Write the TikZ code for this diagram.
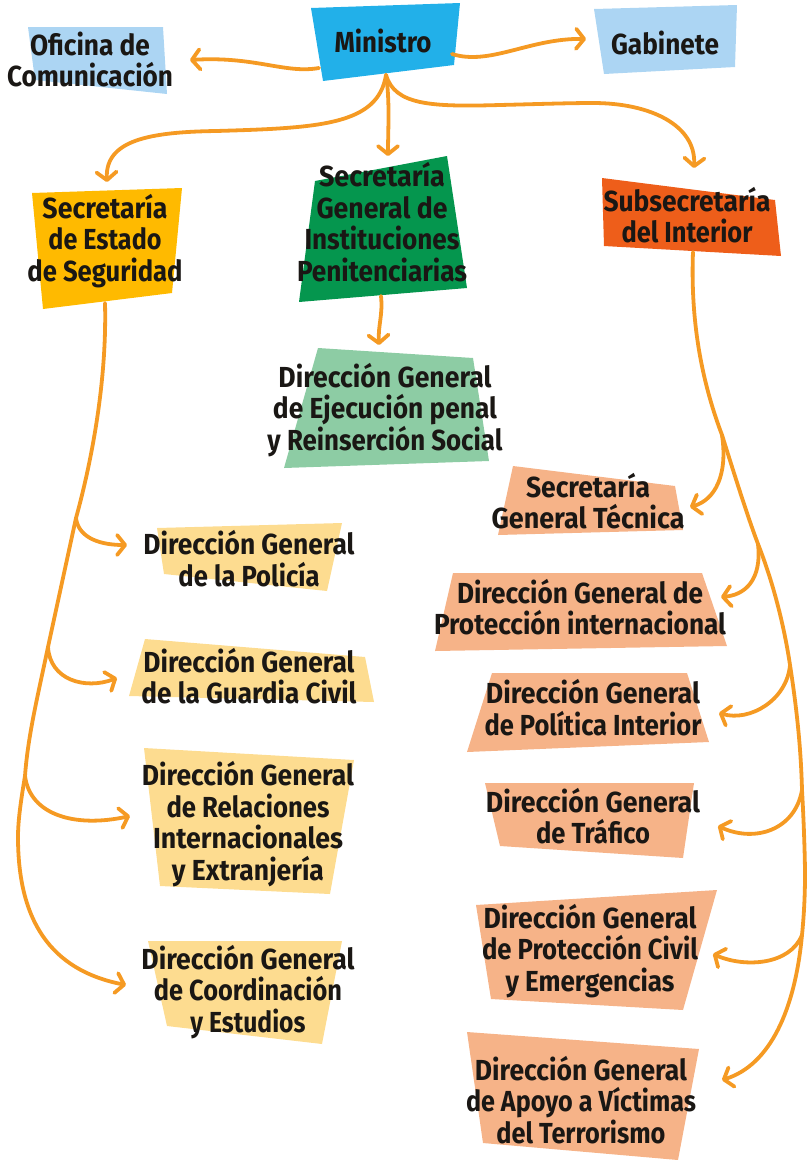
\documentclass[tikz,border=0pt]{standalone}
\usepackage{graphicx}
\usepackage{fontspec}
\setmainfont{Fira Sans}
\usetikzlibrary{arrows.meta}
\definecolor{cmin}{HTML}{22B0E9}
\definecolor{clb}{HTML}{ACD5F3}
\definecolor{cyel}{HTML}{FFBA00}
\definecolor{cgrn}{HTML}{05964E}
\definecolor{corg}{HTML}{EE5E1A}
\definecolor{clg}{HTML}{8DCCA4}
\definecolor{cpy}{HTML}{FDDC90}
\definecolor{csal}{HTML}{F6B388}
\definecolor{cconn}{HTML}{F59A23}
\definecolor{ctxt}{HTML}{1A1714}
\newcommand\fitw[2]{\resizebox{#1pt}{\height}{#2}}
\tikzset{
  label box/.style={align=center,inner sep=0pt,outer sep=0pt,text=ctxt,
    font=\fontsize{29}{31.5}\selectfont\bfseries},
  conn/.style={draw=cconn,line width=3.8pt,line cap=round,line join=round},
  arrowed/.style={conn,-{Straight Barb[length=8pt,width=20pt,line width=3.8pt,round]}}
}
\begin{document}
\begin{tikzpicture}[x=1pt,y=-1pt]
\useasboundingbox (0,0) rectangle (807,1160);
% shapes
\fill[cmin] (311,8)--(460,3)--(454,65)--(323,81)--cycle;
\fill[clb] (28,27)--(163,27)--(167,94)--(35,80)--cycle;
\fill[clb] (594,9)--(737,5)--(735,67)--(604,74)--cycle;
\fill[cyel] (32,193)--(182,188)--(172,293)--(43,309)--cycle;
\fill[cgrn] (315,181)--(447,156)--(467,288)--(299,302)--cycle;
\fill[corg] (602,178)--(775,200)--(781,256)--(604,246)--cycle;
\fill[clg] (318,348)--(473,358)--(489,461)--(284,468)--cycle;
\fill[cpy] (157,528)--(342,523)--(327,591)--(164,574)--cycle;
\fill[cpy] (145,639)--(365,657)--(374,702)--(129,696)--cycle;
\fill[cpy] (144,748)--(354,760)--(330,894)--(160,886)--cycle;
\fill[cpy] (148,941)--(342,941)--(322,1044)--(167,1026)--cycle;
\fill[csal] (513,466)--(675,486)--(683,530)--(498,535)--cycle;
\fill[csal] (453,573)--(702,573)--(727,646)--(435,651)--cycle;
\fill[csal] (492,673)--(687,673)--(709,742)--(467,752)--cycle;
\fill[csal] (485,783)--(694,783)--(683,858)--(500,846)--cycle;
\fill[csal] (476,905)--(717,890)--(683,1010)--(491,999)--cycle;
\fill[csal] (467,1032)--(699,1049)--(678,1160)--(483,1143)--cycle;
% labels
\node[label box] (min) at (383,40.5) {\fitw{97}{Ministro}};
\node[label box] (ofi) at (90,59.5) {\fitw{120}{Oficina de}\\\fitw{166}{Comunicación}};
\node[label box] (gab) at (665,43) {\fitw{108}{Gabinete}};
\node[label box] (est) at (105,241) {\fitw{125}{Secretaría}\\\fitw{113}{de Estado}\\\fitw{155}{de Seguridad}};
\node[label box] (sgi) at (382,222) {\fitw{126}{Secretaría}\\\fitw{131}{General de}\\\fitw{155}{Instituciones}\\\fitw{170}{Penitenciarias}};
\node[label box] (sub) at (687,215) {\fitw{167}{Subsecretaría}\\\fitw{131}{del Interior}};
\node[label box] (eje) at (385,410) {\fitw{213}{Dirección General}\\\fitw{224}{de Ejecución penal}\\\fitw{235}{y Reinserción Social}};
\node[label box] (pol) at (249,558.5) {\fitw{211}{Dirección General}\\\fitw{141}{de la Policía}};
\node[label box] (gua) at (249,676) {\fitw{211}{Dirección General}\\\fitw{215}{de la Guardia Civil}};
\node[label box] (rel) at (248,824) {\fitw{212}{Dirección General}\\\fitw{163}{de Relaciones}\\\fitw{190}{Internacionales}\\\fitw{152}{y Extranjería}};
\node[label box] (coo) at (248,992) {\fitw{213}{Dirección General}\\\fitw{188}{de Coordinación}\\\fitw{115}{y Estudios}};
\node[label box] (sgt) at (588,501) {\fitw{124}{Secretaría}\\\fitw{193}{General Técnica}};
\node[label box] (pin) at (580,607) {\fitw{246}{Dirección General de}\\\fitw{292}{Protección internacional}};
\node[label box] (poi) at (593,707.5) {\fitw{214}{Dirección General}\\\fitw{217}{de Política Interior}};
\node[label box] (tra) at (593,816) {\fitw{214}{Dirección General}\\\fitw{114}{de Tráfico}};
\node[label box] (pci) at (590,951) {\fitw{213}{Dirección General}\\\fitw{216}{de Protección Civil}\\\fitw{169}{y Emergencias}};
\node[label box] (apo) at (581,1100) {\fitw{212}{Dirección General}\\\fitw{230}{de Apoyo a Víctimas}\\\fitw{169}{del Terrorismo}};
% spine junctions
\coordinate (jpol) at (76,518);
\coordinate (jgua) at (48,647);
\coordinate (jrel) at (25,776);
\coordinate (jsgt) at (722,435);
\coordinate (jpin) at (758,544);
\coordinate (jpoi) at (790,665);
\coordinate (jtra) at (802,790);
\coordinate (jpci) at (802,935);
% ministro
\draw[arrowed] ([shift={(-64,27.5)}]min.center) .. controls (285,74) and (255,56) .. ([shift={(100,0.5)}]ofi.center);
\draw[arrowed] ([shift={(69,13.5)}]min.center) .. controls (490,66) and (530,38) .. ([shift={(-79,-4)}]gab.center);
\draw[arrowed] ([shift={(3,34.5)}]min.center) .. controls (378,125) and (320,128) .. (216,131) .. controls (150,132) and (105,140) .. ([shift={(2,-59)}]est.center);
\draw[arrowed] ([shift={(3,34.5)}]min.center) .. controls (390,100) and (388,130) .. ([shift={(6,-66)}]sgi.center);
\draw[arrowed] ([shift={(3,34.5)}]min.center) .. controls (395,105) and (430,107) .. (500,105) .. controls (540,104) and (570,103) .. (593,103) .. controls (650,103) and (696,125) .. ([shift={(7,-47)}]sub.center);
\draw[arrowed] ([shift={(-1,74)}]sgi.center) .. controls (383,315) and (378,325) .. ([shift={(-6,-65)}]eje.center);
% left spine
\draw[arrowed] ([shift={(0,62)}]est.center) .. controls (107,380) and (92,460) .. (jpol) -- (jgua) .. controls (38,695) and (28,735) .. (jrel) .. controls (21,800) and (18,820) .. (18,837) .. controls (18,920) and (50,970) .. ([shift={(-122,-7)}]coo.center);
\draw[arrowed] (jpol) .. controls (78,535) and (95,545) .. ([shift={(-122,-13.5)}]pol.center);
\draw[arrowed] (jgua) .. controls (50,680) and (85,690) .. ([shift={(-132,2)}]gua.center);
\draw[arrowed] (jrel) .. controls (30,815) and (75,828) .. ([shift={(-118,-8)}]rel.center);
% right spine
\draw[arrowed] ([shift={(6,37)}]sub.center) .. controls (690,330) and (705,390) .. (jsgt) .. controls (733,470) and (747,515) .. (jpin) .. controls (773,582) and (784,625) .. (jpoi) .. controls (797,710) and (801,750) .. (jtra) .. controls (804,825) and (805,860) .. (805,875) .. controls (805,895) and (804,915) .. (jpci) .. controls (795,1010) and (770,1065) .. ([shift={(141,-20)}]apo.center);
\draw[arrowed] (jsgt) .. controls (728,475) and (715,500) .. ([shift={(102,6)}]sgt.center);
\draw[arrowed] (jpin) .. controls (762,580) and (745,595) .. ([shift={(141,-10)}]pin.center);
\draw[arrowed] (jpoi) .. controls (787,700) and (750,722) .. ([shift={(126,5.5)}]poi.center);
\draw[arrowed] (jtra) .. controls (795,830) and (755,843) .. ([shift={(125,10)}]tra.center);
\draw[arrowed] (jpci) .. controls (790,965) and (745,968) .. ([shift={(123,3)}]pci.center);
\end{tikzpicture}
\end{document}
